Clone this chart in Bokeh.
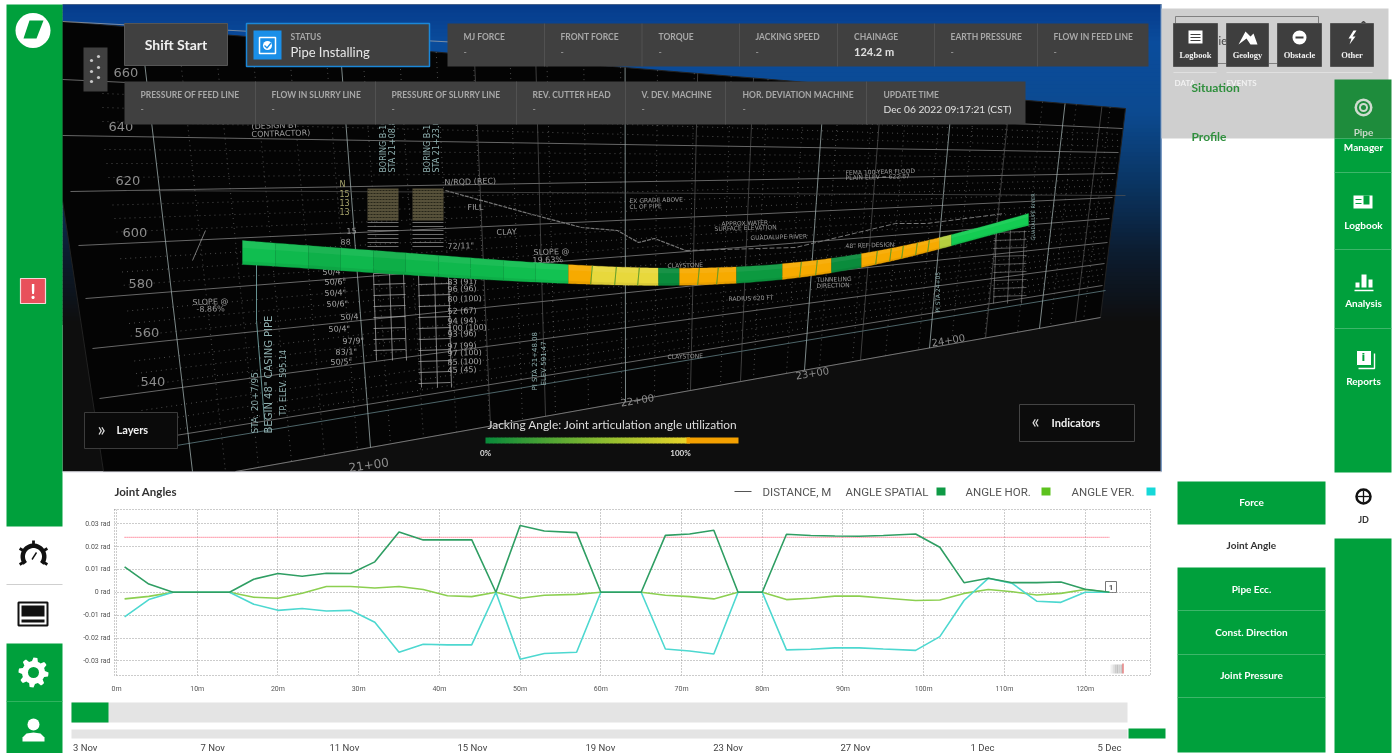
import numpy as np
from bokeh.plotting import figure
from bokeh.models import Column, FixedTicker
from bokeh.core.properties import value
from bokeh.embed import file_html
from bokeh.resources import INLINE

# ---------- chart data ----------
distance_m = [1, 4, 7, 14, 17, 20, 23, 26, 29, 32, 35, 38, 41, 44, 47, 50, 53, 57, 60, 65, 68, 71, 74, 77, 80,
              83, 86, 89, 92, 95, 99, 102, 105, 108, 111, 114, 117, 120, 123]
angle_spatial = [.0111, .0036, 0, 0, .0057, .0082, .0070, .0083, .0082, .0133, .0264, .0229, .0229, .0230, 0,
                 .0292, .0268, .0261, 0, 0, .0249, .0255, .0271, 0, 0, .0254, .0248, .0246, .0245, .0248, .0255,
                 .0197, .0042, .0061, .0042, .0042, .0045, .0013, 0]
angle_hor = [-.0029, -.0018, 0, 0, -.0022, -.0026, -.0004, .0025, .0025, .0019, .0025, .0012, -.0015, -.0019, 0,
             -.0026, -.0013, -.0009, 0, 0, -.0013, -.0019, -.0029, 0, 0, -.0032, -.0026, -.0017, -.0017, -.0025,
             -.0036, -.0034, -.0005, .0012, .0002, -.0012, -.0005, .0012, 0]
angle_ver = [-.0108, -.0032, 0, 0, -.0052, -.0079, -.0071, -.0082, -.0079, -.0131, -.0262, -.0227, -.0230, -.0230,
             0, -.0293, -.0268, -.0262, 0, 0, -.0248, -.0257, -.0270, 0, 0, -.0252, -.0249, -.0243, -.0243, -.0248,
             -.0254, -.0194, -.0036, .0061, .0038, -.0039, -.0044, 0, 0]
limit_x = [1, 123]
limit_y = [.0240, .0240]
y_ticks = [-.03, -.02, -.01, 0, .01, .02, .03]
y_labels = ["-0.03 rad", "-0.02 rad", "-0.01 rad", "0 rad", "0.01 rad", "0.02 rad", "0.03 rad"]
x_ticks = list(range(0, 130, 10))
x_labels = [f"{v}m" for v in x_ticks]
dates = ["3 Nov", "7 Nov", "11 Nov", "15 Nov", "19 Nov", "23 Nov", "27 Nov", "1 Dec", "5 Dec"]
row1 = ["MJ FORCE", "FRONT FORCE", "TORQUE", "JACKING SPEED", "CHAINAGE", "EARTH PRESSURE", "FLOW IN FEED LINE"]
row1_values = ["-", "-", "-", "-", "124.2 m", "-", "-"]
row2 = ["PRESSURE OF FEED LINE", "FLOW IN SLURRY LINE", "PRESSURE OF SLURRY LINE", "REV. CUTTER HEAD",
        "V. DEV. MACHINE", "HOR. DEVIATION MACHINE", "UPDATE TIME"]
row2_values = ["-", "-", "-", "-", "-", "-", "Dec 06 2022 09:17:21 (CST)"]

GREEN = "#00a03c"
UI = "Lato"
bg = figure(width=1395, height=753, x_range=(0, 1395), y_range=(753, 0), output_backend="svg", toolbar_location=None,
            min_border=0, background_fill_color="white", border_fill_color="white", outline_line_color=None)
bg.axis.visible = False
bg.grid.visible = False


def R(x0, y0, x1, y1, c, line=None, lw=1, alpha=1.0):
    bg.quad(left=[x0], right=[x1], top=[y0], bottom=[y1], fill_color=c, fill_alpha=alpha,
            line_color=line, line_width=lw)


def L(xs, ys, c="#999999", lw=0.8, dash="solid", alpha=1.0):
    bg.line(list(xs), list(ys), line_color=c, line_width=lw, line_dash=dash, line_alpha=alpha)


def T(x, y, s, size=9, c="#ffffff", align="left", bold=False, font=UI, angle=0.0, alpha=1.0):
    bg.text(x=[x], y=[y], text=[s], text_font=value(font), text_font_size=f"{size}px", text_color=c,
            text_align=align, text_baseline="middle", text_font_style="bold" if bold else "normal",
            angle=angle, text_alpha=alpha)


def mix(a, b, t):
    ca = [int(a[i:i + 2], 16) for i in (1, 3, 5)]
    cb = [int(b[i:i + 2], 16) for i in (1, 3, 5)]
    return "#%02x%02x%02x" % tuple(int(round(p + (q - p) * t)) for p, q in zip(ca, cb))


def grad(stops, v):
    for (a, ca), (b, cb) in zip(stops, stops[1:]):
        if v <= b:
            return mix(ca, cb, (v - a) / (b - a))
    return stops[-1][1]


# ---------- 3D scene ----------
sky = [(4, "#063c8c"), (40, "#0a4c9c"), (110, "#0c4a90"), (180, "#0a3563"), (250, "#0c1c30"), (320, "#0e0e0e")]
R(62, 4, 1161, 471, "#0e0e0e")
for y in range(4, 322, 4):
    R(62, y, 1161, y + 4.5, grad(sky, y))

bg.patch([62, 1125, 1100, 235, 103, 62], [21, 108, 317, 471, 471, 200], fill_color="#040404", line_color="#222222")

left_pts = [(62, 79), (62, 135), (70, 191), (78, 245), (85, 298), (92, 348), (99, 398), (107, 446)]
right_pts = [(1122, 128), (1118, 152), (1115, 173), (1112, 197), (1109, 218), (1107, 242), (1104, 263), (1102, 285)]
for (a, b), (c, d) in zip(left_pts, right_pts):
    L([a, c], [b, d], "#808080", 0.8)
for (a, b), (c, d), (e, f), (g, h) in zip(left_pts, right_pts, left_pts[1:], right_pts[1:]):
    for t in (0.25, 0.5, 0.75):
        L([a + (e - a) * t + 40, c + (g - c) * t], [b + (f - b) * t, d + (h - d) * t], "#6e6e6e", 0.7, "1 4")
L([235, 1100], [471, 317], "#8a8a8a", 0.8)
L([176, 1105], [445, 290], "#6d8f95", 0.7)


def vert(xb, c, lw, dash):
    k = np.interp(xb, [192, 500, 800, 1100], [-52, -15, 20, 27])
    yb = 471 - max(xb - 235, 0) * 0.178
    xt = xb + k
    yt = 21 + (xt - 62) * 87 / 1063
    L([xt, xb], [yt, yb], c, lw, dash)


for xb in np.arange(225, 1100, 33):
    vert(float(xb), "#6e6e6e", 0.7, "1 4")
for xb in [192, 370, 625, 804, 929, 1039]:
    vert(xb, "#9aa9a9", 0.8, "solid")
for xb in [490, 545, 690, 740, 860, 985, 1075]:
    vert(xb, "#666666", 0.6, "solid")
L([256, 256, 264], [263, 320, 420], "#7fb5b5", 0.8)
L([192, 205], [260, 230], "#aaaaaa", 0.7)
L([445, 528, 581, 617, 638, 654, 685], [190, 213, 227, 230, 242, 238, 250], "#777777", 1.2, "4 1")
L([685, 795, 895, 926, 1004], [250, 247, 223, 223, 213], "#777777", 1.0, "5 2")
L([126, 1125], [190, 195], "#555555", 0.7)
L([62, 800], [21, 60], "#aaaaaa", 0.7)

# borings
for x0, x1, y2, y3 in [(367, 398, 273, 360), (412, 443, 273, 387)]:
    R(x0, 188, x1, 220, "#57513a")
    for y in range(190, 220, 3):
        L([x0, x1], [y, y], "#1a1a10", 0.8, "2 1")
    for y in range(222, 250, 4):
        L([x0, x1], [y, y], "#9a9a9a", 0.7)
    xa = x0 + 6
    for y in range(y2, y3, 11):
        L([xa, xa + 32], [y, y - 1], "#b4b4b4", 0.7)
    for d in (0, 16, 30):
        L([xa + d, xa + d + 3], [y2, y3], "#b4b4b4", 0.7)
for y in range(232, 304, 8):
    L([993, 1026], [y, y - 1], "#8f8f8f", 0.6)
for d in (0, 14, 28):
    L([996 + d, 993 + d], [230, 303], "#8f8f8f", 0.6)

for x, y, s in [(113, 72, "660"), (108, 126, "640"), (115, 180, "620"), (122, 232, "600"), (128, 283, "580"),
                (134, 332, "560"), (140, 381, "540")]:
    T(x, y, s, 13, "#8c8c8c", font="DejaVu Sans")
for x, y, s, ang in [(348, 467, "21+00", 0.14), (620, 402, "22+00", 0.16), (795, 375, "23+00", 0.16),
                     (931, 342, "24+00", 0.16)]:
    T(x, y, s, 10 if x > 600 else 12, "#8c8c8c", font="DejaVu Sans", angle=ang)
small = [(251, 126, "(DESIGN BY"), (251, 134, "CONTRACTOR)"), (444, 182, "N/RQD (REC)"), (496, 232, "CLAY"),
         (467, 207, "FILL"), (346, 230, "15"), (340, 241, "88"), (447, 246, "72/11\""), (533, 252, "SLOPE @"),
         (532, 260, "19.63%"), (192, 302, "SLOPE @"), (196, 309, "-8.86%"), (629, 200, "EX GRADE ABOVE"),
         (629, 206, "CL OF PIPE"), (721, 223, "APPROX WATER"), (714, 228, "SURFACE ELEVATION"),
         (750, 237, "GUADALUPE RIVER"), (667, 265, "CLAYSTONE"), (667, 356, "CLAYSTONE"), (728, 298, "RADIUS 620 FT"),
         (816, 279, "TUNNELING"), (816, 285, "DIRECTION"), (845, 245, "48\" REF DESIGN"),
         (845, 172, "FEMA 100-YEAR FLOOD"), (845, 177, "PLAIN ELEV = 622.87")]
for x, y, s in small:
    T(x, y, s, 6 if x > 600 else 8, "#9c9c9c", font="DejaVu Sans", angle=0.03)
nvals = [(322, 272, "50/4\""), (324, 282, "50/6\""), (324, 293, "50/4\""), (326, 304, "50/6\""), (340, 317, "50/4"),
         (328, 329, "50/4\""), (342, 341, "97/9\""), (335, 352, "83/1\""), (330, 362, "50/5\"")]
recs = [(447, 282, "83 (91)"), (447, 289, "96 (96)"), (447, 299, "80 (100)"), (447, 311, "52 (67)"),
        (447, 321, "94 (94)"), (447, 328, "100 (100)"), (447, 334, "93 (96)"), (447, 346, "97 (99)"),
        (447, 353, "97 (100)"), (447, 362, "85 (100)"), (447, 370, "45 (45)")]
for x, y, s in nvals + recs:
    T(x, y, s, 8, "#a4a4a4", font="DejaVu Sans", angle=0.03)
for x, y, s, size in [(254, 433, "STA. 20+7/95", 9), (268, 433, "BEGIN 48\" CASING PIPE", 10),
                      (283, 415, "TP. ELEV. 595.14", 8), (534, 390, "PI STA 21+48.08", 7), (543, 385, "ELEV 591.47", 7),
                      (383, 172, "BORING B-10", 8), (392, 172, "STA 21+08.8", 8), (427, 172, "BORING B-11", 8),
                      (436, 172, "STA 21+23.0", 8), (937, 312, "PI STA 24+05", 6), (1032, 240, "GUADALUPE RIVER", 5)]:
    T(x, y, s, size, "#8fb0b0", font="DejaVu Sans", angle=np.pi / 2)
for i, s in enumerate(["N", "15", "13", "13"]):
    T(339, 184 + i * 9, s, 8, "#a9a66e", font="DejaVu Sans")

# pipe
px = np.array([242, 400, 569, 658, 737, 784, 832, 861, 900, 944, 985, 1028], dtype=float)
ptop = [240, 252, 264, 268, 266, 263, 258, 253, 246, 236, 225, 213]
pbot = [264, 274, 283, 285, 283, 278, 273, 266, 259, 247, 236, 225]
px_n = (px - 635) / 393
fit_top = np.polyfit(px_n, ptop, 6)
fit_bot = np.polyfit(px_n, pbot, 6)
seg_edges = [242, 275, 308, 340, 373, 405, 438, 470, 503, 535, 568, 591, 615, 638, 658, 679, 698, 717, 736, 782,
             800, 816, 831, 861, 876, 890, 902, 916, 928, 939, 951, 1028]
seg_colors = ["#10be50", "#0fb94d", "#0eb049", "#0fb84d", "#0dae47", "#0fb64b", "#0fb84d", "#0eb94c", "#10be4f",
              "#12c252", "#f7aa00", "#e8d83c", "#e8d83c", "#e8d83c", "#0a8c3c", "#f7aa00", "#f7aa00", "#f7aa00",
              "#0c9a40", "#f7aa00", "#f7aa00", "#f7aa00", "#0a8c3c", "#f7aa00", "#f7aa00", "#f7aa00", "#f7aa00",
              "#f7aa00", "#f7aa00", "#b5cf3f", "#14cc52"]


def ptopf(x):
    return np.polyval(fit_top, (np.asarray(x, dtype=float) - 635) / 393)


def pbotf(x):
    return np.polyval(fit_bot, (np.asarray(x, dtype=float) - 635) / 393)


for a, b, c in zip(seg_edges[:-1], seg_edges[1:], seg_colors):
    xs = np.linspace(a, b, 8)
    t = ptopf(xs)
    u = pbotf(xs)
    bg.patch(list(xs) + list(xs[::-1]), list(t) + list(u[::-1]), fill_color=c, line_color=c, line_width=0.3)
    m = t + (u - t) * 0.3
    bg.patch(list(xs) + list(xs[::-1]), list(t) + list(m[::-1]), fill_color="#ffffff", fill_alpha=0.06, line_color=None)
    m2 = t + (u - t) * 0.86
    bg.patch(list(xs) + list(xs[::-1]), list(m2) + list(u[::-1]), fill_color="#000000", fill_alpha=0.06, line_color=None)
for e in seg_edges[11:14] + seg_edges[16:18] + seg_edges[20:22] + seg_edges[24:29]:
    L([e + 1, e - 1], [float(ptopf(e)), float(pbotf(e))], "#58a02a", 0.9)

# top panels
R(124, 23, 227, 65, "#404040", "#565656")
T(175.5, 44, "Shift Start", 14, "#f0f0f0", "center", True)
R(246, 23, 429, 66, "#404040", "#1b87d8", 1.5)
R(253, 30, 281, 59, "#1a8fe8")
R(259, 37, 275, 53, "#1a8fe8", "#ffffff", 1.5)
bg.scatter([267], [45], size=9, fill_color="#ffffff", line_color=None)
L([264, 266.5, 270.5], [45, 47.5, 42.5], "#1a8fe8", 1.3)
T(290, 36, "STATUS", 8.5, "#a8a8a8", bold=True)
T(290, 51, "Pipe Installing", 13, "#e8e8e8")
R(447, 23, 1148, 66, "#404040")
for x in [544, 641.5, 739, 837, 934, 1037]:
    L([x, x], [23, 66], "#565656", 0.8)
for x, s, v in zip([463, 560, 658, 755, 853.6, 950, 1053], row1, row1_values):
    T(x, 36, s, 8.5, "#a8a8a8", bold=True)
    T(x, 51, v, 11 if len(v) > 1 else 9, "#e0e0e0" if len(v) > 1 else "#a8a8a8", bold=len(v) > 1)
R(124, 81, 1025, 124, "#404040")
for x in [255, 375, 516, 625, 725, 866]:
    L([x, x], [81, 124], "#565656", 0.8)
for x, s, v in zip([140, 271, 391, 532, 641, 742, 883], row2, row2_values):
    T(x, 94, s, 8.5, "#a8a8a8", bold=True)
    T(x, 108, v, 10.2 if len(v) > 1 else 9, "#e0e0e0" if len(v) > 1 else "#a8a8a8")
R(83, 47, 107, 91, "#404040")
bg.scatter([91, 98, 91, 98, 91, 98], [60, 56, 71, 67, 81, 77], size=3.2, fill_color="#c8c8c8", line_color=None)

# scene buttons and legend
R(84, 412, 177, 448, "#0a0a0a", "#3c3c3c")
T(97, 428, "\u00bb", 19, "#dddddd")
T(116, 429, "Layers", 11, "#f0f0f0", bold=True)
R(1019, 404, 1134, 441, "#0c0c0c", "#444444")
T(1031, 420, "\u00ab", 19, "#dddddd")
T(1051, 422, "Indicators", 11, "#f0f0f0", bold=True)
T(487, 424, "Jacking Angle: Joint articulation angle utilization", 11.9, "#dddddd", font="Lato")
bar = [(485, "#0a8a3a"), (600, "#8cbc30"), (686, "#ead52a")]
for x in range(485, 686, 4):
    R(x, 437, x + 4.5, 443, grad(bar, x))
R(686, 437, 738, 443, "#f4a000")
T(485, 452, "0%", 8, "#dddddd", "center", True)
T(680, 452, "100%", 8, "#dddddd", "center", True)

# left bar
R(6, 4, 62, 526, GREEN)
bg.circle([32.5], [30], radius=17.5, fill_color="#ffffff", line_color=None)
bg.patch([29, 43, 36, 23], [20, 20, 38, 38], fill_color=GREEN, line_color=None)
R(20, 278, 45, 303, "#e8505b", "#f4d8d8", 1.2)
T(32.5, 290, "!", 20, "#ffffff", "center", True)
L([6, 62], [584, 584], "#cfcfcf", 1.2)
R(6, 643, 62, 753, GREEN)
L([6, 62], [701, 701], "#3cb868", 0.8)
# gauge
ga = np.radians(np.linspace(-40, 220, 30))
gx = list(33 + 13 * np.cos(ga)) + list(33 + 8.5 * np.cos(ga[::-1]))
gy = list(556 - 13 * np.sin(ga)) + list(556 - 8.5 * np.sin(ga[::-1]))
bg.patch(gx, gy, fill_color="#111111", line_color=None)
for a in np.radians([-30, 30, 90, 150, 210]):
    L([33 + 12 * np.cos(a), 33 + 16 * np.cos(a)], [556 - 12 * np.sin(a), 556 - 16 * np.sin(a)], "#111111", 2.8)
L([31.5, 36], [559, 552], "#111111", 1.4)
# monitor
R(18, 602, 47, 625, "#ffffff", "#111111", 2)
R(21, 605, 44, 616, "#111111")
R(21, 619, 44, 622, "#111111")
# gear
ga = np.linspace(0, 2 * np.pi, 49)
gr = np.where((np.arange(49) % 6) < 3, 15, 11.5)
bg.patch(33 + gr * np.cos(ga), 672 + gr * np.sin(ga), fill_color="#ffffff", line_color=None)
bg.circle([33], [672], radius=5.5, fill_color=GREEN, line_color=None)
# person
bg.circle([33], [724], radius=6, fill_color="#ffffff", line_color=None)
bg.patch([22, 22, 26, 33, 40, 44, 44], [741, 737, 733, 732, 733, 737, 741], fill_color="#ffffff", line_color=None)

# right top panel
R(1160, 4, 1161.5, 471, "#7d9cc4")
R(1161, 8, 1388, 138, "#cfcfcf")
R(1175, 16, 1318, 63, "#cfcfcf", "#808080")
T(1218, 40, "ie", 11, "#444444")
bg.line([1359, 1363, 1367], [25, 21, 25], line_color="#444444", line_width=1.5)
btn_names = ["Logbook", "Geology", "Obstacle", "Other"]
for x0, x1, s in zip([1173, 1226, 1277, 1330], [1217, 1268, 1321, 1373], btn_names):
    R(x0, 23, x1, 66, "#3e3e3e", "#555555")
    T((x0 + x1) / 2, 54, s, 8.5, "#f2f2f2", "center", font="Liberation Serif", bold=True)
R(1188, 30, 1202, 43, "#ffffff")
for y in (34, 37, 40):
    L([1190, 1200], [y, y], "#3e3e3e", 1.2)
bg.patch([1238, 1245, 1250, 1253, 1257, 1250, 1246], [44, 31, 36, 33, 44, 44, 38], fill_color="#ffffff", line_color=None)
bg.circle([1299], [37], radius=7, fill_color="#ffffff", line_color=None)
L([1295, 1303], [37, 37], "#3e3e3e", 2)
bg.patch([1353, 1348, 1351, 1349, 1355, 1352, 1356], [30, 38, 38, 44, 36, 36, 30], fill_color="#ffffff", line_color=None)
L([1173, 1216], [72, 72], "#e4e4e4", 0.8)
L([1226, 1372], [72, 72], "#e4e4e4", 0.8)
T(1174, 82, "DATA", 8, "#f2f2f2", bold=True)
T(1226, 82, "EVENTS", 8, "#f2f2f2", bold=True)
T(1191, 87, "Situation", 12, "#2f8f3d", bold=True)
T(1191, 136, "Profile", 12, "#2f8f3d", bold=True)

# right nav
R(1334, 79, 1391, 138, "#1e8c3c")
R(1334, 138, 1391, 472, GREEN)
for y in [172, 249, 328]:
    L([1334, 1391], [y, y], "#4dbb76", 0.8)
for y, s, c in [(131, "Pipe", "#c8d8c8"), (146, "Manager", "#ffffff"), (224, "Logbook", "#ffffff"),
                (302, "Analysis", "#ffffff"), (380, "Reports", "#ffffff")]:
    T(1363, y, s, 10, c, "center", True)
for r, c in [(9, "#cfdccf"), (6.5, "#1e8c3c"), (4.5, "#cfdccf"), (2.5, "#1e8c3c")]:
    bg.circle([1363], [107], radius=r, fill_color=c, line_color=None)
R(1353, 195, 1372, 208, "#ffffff")
R(1363, 195, 1369, 204, GREEN)
L([1355, 1361], [199, 199], GREEN, 1)
L([1355, 1361], [203, 203], GREEN, 1)
R(1355, 282, 1359, 287, "#ffffff")
R(1361, 274, 1366, 287, "#ffffff")
R(1368, 279, 1372, 287, "#ffffff")
L([1354, 1373], [290, 290], "#ffffff", 1.5)
R(1356, 350, 1371, 365, "#ffffff", GREEN, 1)
T(1363, 357, "i", 11, GREEN, "center", True, font="DejaVu Sans")
L([1358, 1374, 1374], [368, 368, 353], "#ffffff", 1.4)
R(1334, 538, 1391, 753, GREEN)
bg.circle([1363], [496], radius=7, fill_color="#ffffff", line_color="#111111", line_width=2.5)
L([1357, 1369], [496, 496], "#111111", 1.3)
L([1363, 1363], [490, 502], "#111111", 1.3)
T(1363, 519, "JD", 9, "#333333", "center", True)

# tabs
R(1177, 481, 1325, 524, GREEN)
R(1177, 567, 1325, 752, GREEN)
for y in [610, 654, 697]:
    L([1177, 1325], [y, y], "#4dbb76", 0.8)
for y, s in [(501, "Force"), (588, "Pipe Ecc."), (631, "Const. Direction"), (674, "Joint Pressure")]:
    T(1251, y, s, 10, "#ffffff", "center", True)
T(1251, 544, "Joint Angle", 10, "#333333", "center", True)

# chart chrome
L([62, 1161], [471.5, 471.5], "#e0e0ea", 1.2)
T(114, 491, "Joint Angles", 11.5, "#333333", bold=True)
L([734, 751], [491, 491], "#555555", 1)
LEG = "Roboto"
T(762, 491, "DISTANCE, M", 11.5, "#555555", font=LEG)
T(845, 491, "ANGLE SPATIAL", 11.5, "#555555", font=LEG)
R(936, 487, 945, 495, "#0e9a45")
T(965, 491, "ANGLE HOR.", 11.5, "#555555", font=LEG)
R(1041, 487, 1050, 495, "#5dc21e")
T(1071, 491, "ANGLE VER.", 11.5, "#555555", font=LEG)
R(1146, 487, 1155, 495, "#16d8d8")
R(71, 702, 1127, 722, "#e4e4e4")
R(71, 702, 108, 722, GREEN)
R(71, 729, 1127, 738, "#e4e4e4")
R(1128, 728, 1165, 738, GREEN)
for x, s in zip([72.5, 200, 329, 457, 585, 712.7, 840, 970, 1097], dates):
    T(x, 747, s, 9.5, "#444444", font="Roboto")
R(1105, 581, 1116, 592, "#ffffff", "#777777", 1)
T(1110.5, 587, "1", 8, "#555555", "center", True, font="Roboto")
for i, c in enumerate(["#f0f0f0", "#e0e0e0", "#cccccc", "#c2c2c2", "#d0d0d0", "#c8c8c8"]):
    R(1110 + i * 2, 664, 1112 + i * 2, 673, c)
R(1122, 663, 1123, 673, "#dd4444")

# ---------- the chart itself ----------
chart = figure(frame_width=1036, frame_height=166, x_range=(-0.25, 128.1), y_range=(-.0364, .0362),
               output_backend="svg", toolbar_location=None, min_border_left=54, min_border_right=15,
               min_border_top=9, min_border_bottom=25, background_fill_color=None, border_fill_color=None,
               outline_line_color="#999999", outline_line_dash="1 2", outline_line_width=1)
chart.xaxis.ticker = FixedTicker(ticks=x_ticks)
chart.yaxis.ticker = FixedTicker(ticks=y_ticks)
chart.xaxis.major_label_overrides = dict(zip(x_ticks, x_labels))
chart.yaxis.major_label_overrides = dict(zip(y_ticks, y_labels))
for ax in (chart.xaxis, chart.yaxis):
    ax.axis_line_color = None
    ax.major_tick_line_color = None
    ax.minor_tick_line_color = None
    ax.major_tick_out = 0
    ax.major_tick_in = 0
    ax.minor_tick_out = 0
    ax.minor_tick_in = 0
    ax.major_label_text_font = "Roboto"
    ax.major_label_text_font_size = "7px"
    ax.major_label_text_color = "#555555"
chart.xaxis.major_label_standoff = 9
chart.yaxis.major_label_standoff = 4
chart.grid.grid_line_color = "#999999"
chart.grid.grid_line_dash = "1 2"
chart.grid.grid_line_width = 1
chart.line(limit_x, limit_y, line_color="#ff6f86", line_width=1.1, line_dash="1 1")
chart.line(distance_m, angle_hor, line_color="#8ccf50", line_width=1.6)
chart.line(distance_m, angle_ver, line_color="#4dd8d0", line_width=1.6)
chart.line(distance_m, angle_spatial, line_color="#2f9e63", line_width=1.6)

overlay = Column(children=[chart], styles={"position": "absolute", "left": "60px", "top": "500px"})
root = Column(children=[bg, overlay], width=1395, height=753, styles={"position": "fixed", "left": "0px", "top": "0px"})
open("out.html", "w").write(file_html(root, INLINE))
